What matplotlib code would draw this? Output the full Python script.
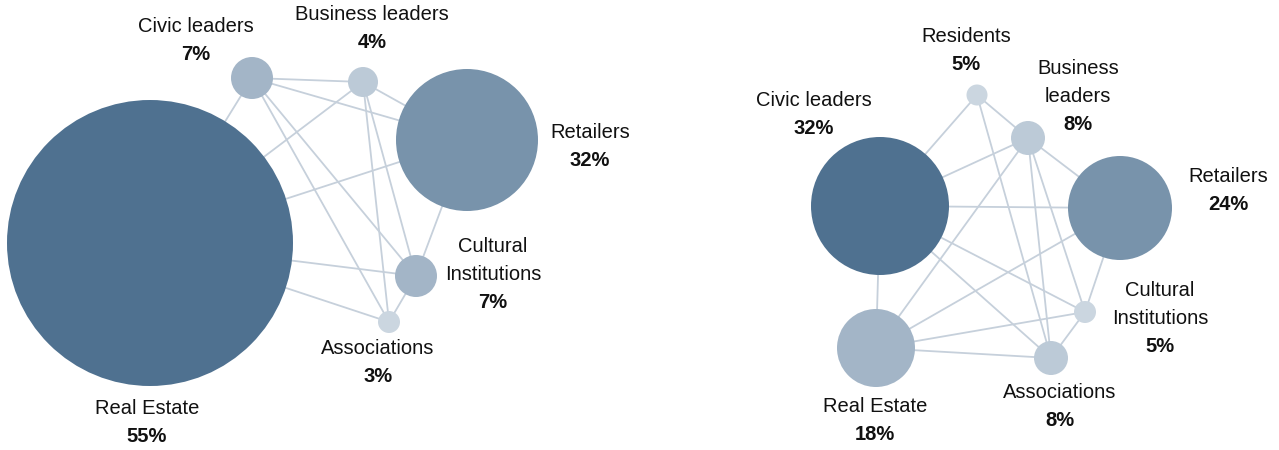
import matplotlib.pyplot as plt
from matplotlib.patches import Circle

plt.rcParams['font.family'] = ['Liberation Sans', 'DejaVu Sans']

# left network
left_groups = ['Real Estate', 'Civic leaders', 'Business leaders', 'Retailers',
               'Cultural\nInstitutions', 'Associations']
left_share = [55, 7, 4, 32, 7, 3]
left_links = [(0, 1), (0, 2), (0, 3), (0, 4), (0, 5),
              (1, 2), (1, 3), (1, 4), (1, 5),
              (2, 3), (2, 4), (2, 5),
              (3, 4), (4, 5)]

# right network
right_groups = ['Civic leaders', 'Residents', 'Business\nleaders', 'Retailers',
                'Cultural\nInstitutions', 'Associations', 'Real Estate']
right_share = [32, 5, 8, 24, 5, 8, 18]
right_links = [(1, 0), (1, 2), (1, 5),
               (2, 0), (2, 6), (2, 3), (2, 4), (2, 5),
               (0, 3), (0, 6), (0, 4), (0, 5),
               (6, 3), (6, 4), (6, 5),
               (3, 4), (4, 5)]

# layout (pixels): node centre, radius, label anchor
left_xy = [(150, 243), (252, 78), (363, 82), (467, 140), (416, 276), (389, 322)]
left_r = [143, 21, 15, 71, 21, 11]
left_lab = [(147, 408), (196, 27), (372, 15), (590, 132), (493, 247), (378, 348)]

right_xy = [(880, 206), (977, 95), (1028, 138), (1120, 208), (1085, 312), (1051, 358), (876, 348)]
right_r = [69, 10.5, 17, 52, 11, 17, 39]
right_lab = [(814, 100), (966, 37), (1078, 68), (1228, 177), (1160, 291), (1060, 393), (875, 407)]

palette = ['#4f7190', '#7893ab', '#a3b5c7', '#bccad7', '#cbd6e0']
edge_col = '#c6d0db'
step = 28

fig = plt.figure(figsize=(12.79, 4.5), dpi=100)
ax = fig.add_axes([0, 0, 1, 1])
ax.set_xlim(0, 1279)
ax.set_ylim(450, 0)
ax.axis('off')


def draw_net(groups, share, links, xy, rad, lab):
    levels = sorted(set(share), reverse=True)
    for a, b in links:
        ax.plot([xy[a][0], xy[b][0]], [xy[a][1], xy[b][1]],
                color=edge_col, lw=1.3, zorder=1, solid_capstyle='round')
    for i, g in enumerate(groups):
        col = palette[min(levels.index(share[i]), len(palette) - 1)]
        ax.add_patch(Circle(xy[i], rad[i], facecolor=col, edgecolor='none', zorder=2))
        lines = g.split('\n')
        x, y = lab[i]
        for k, t in enumerate(lines):
            ax.text(x, y + k * step, t, ha='center', va='center',
                    fontsize=14.5, color='#111111')
        ax.text(x, y + len(lines) * step, f'{share[i]}%', ha='center', va='center',
                fontsize=14.5, fontweight='bold', color='#111111')


draw_net(left_groups, left_share, left_links, left_xy, left_r, left_lab)
draw_net(right_groups, right_share, right_links, right_xy, right_r, right_lab)

fig.savefig('out.png', dpi=100)
